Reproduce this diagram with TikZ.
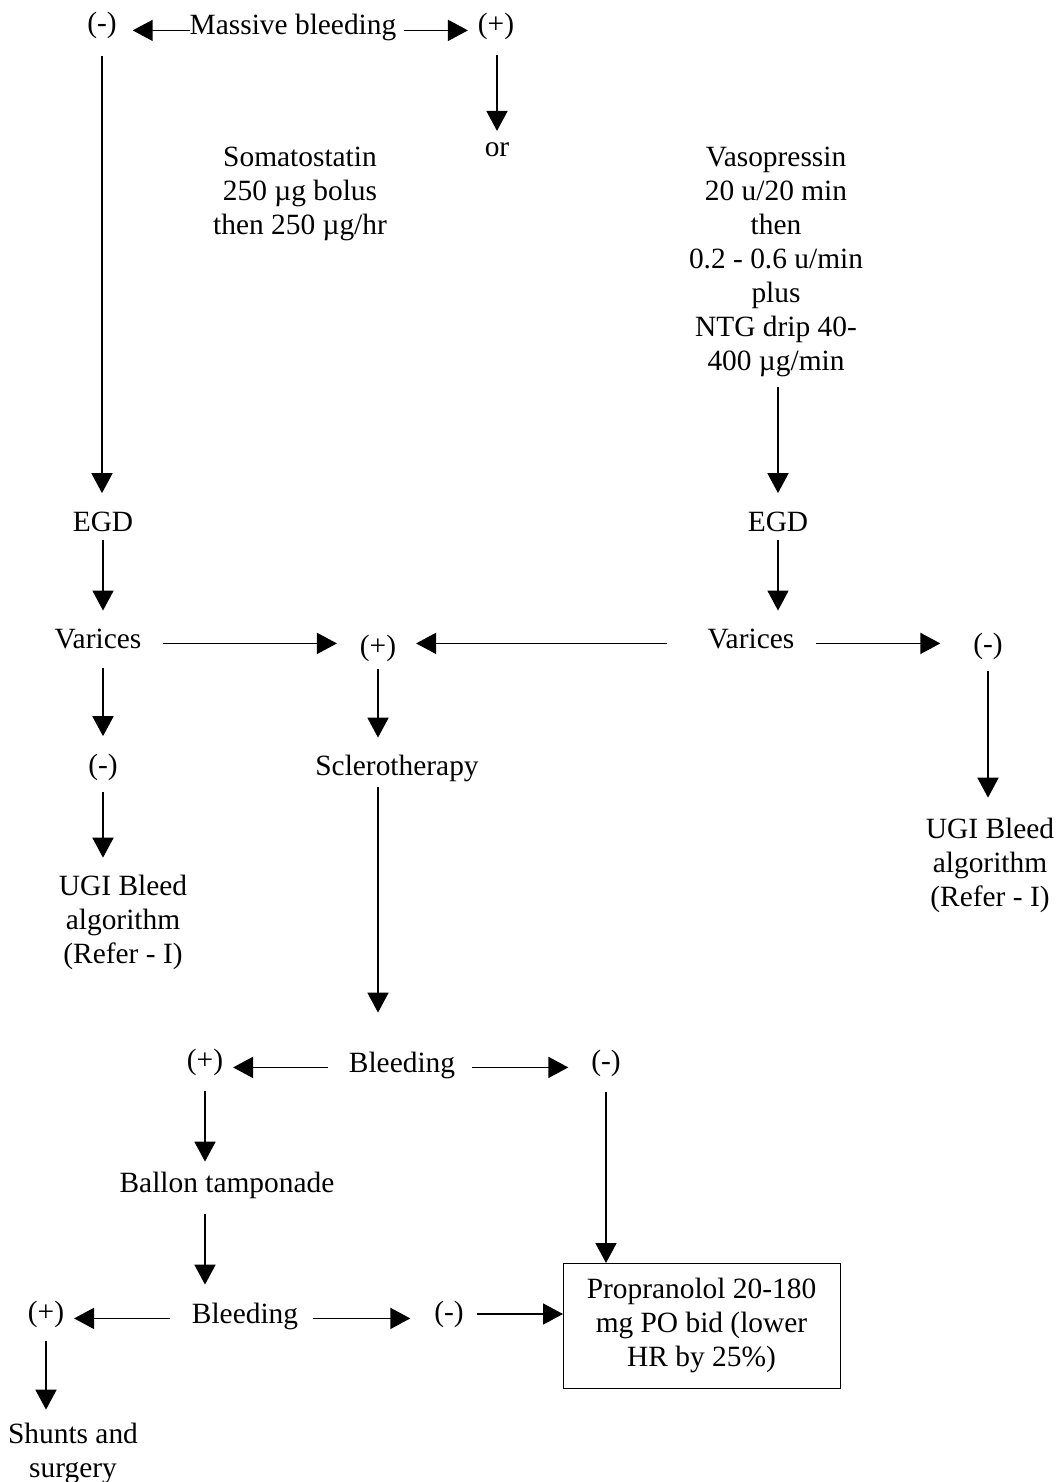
\documentclass[tikz,border=0pt]{standalone}
\usepackage{fontspec}
\setmainfont{Liberation Serif}
\usetikzlibrary{arrows.meta}

\tikzset{
    lbl/.style={inner sep=0pt, outer sep=0pt, align=center, font=\fontsize{14.7pt}{17pt}\selectfont},
    flow/.style={-{Triangle[length=10pt,width=10.5pt]}, line width=0.9pt},
    rxbox/.style={lbl, draw, line width=0.5pt, minimum width=138.5pt, minimum height=62.5pt}
}

\begin{document}
\begin{tikzpicture}[x=0.5pt, y=-0.5pt]
    \useasboundingbox (0,0) rectangle (1056,1482);

    \node[lbl] (neg1) at (102,25) {(-)};
    \node[lbl, anchor=base] (mb) at (293,35) {Massive bleeding};
    \node[lbl] (pos1) at (496,26) {(+)};
    \node[lbl] (orr) at (497,150) {or};
    \node[lbl] (soma) at (300,194) {Somatostatin\\250 µg bolus\\then 250 µg/hr};
    \node[lbl] (vaso) at (776,262) {Vasopressin\\20 u/20 min\\then\\0.2 - 0.6 u/min\\plus\\NTG drip 40-\\400 µg/min};

    \node[lbl] (egdL) at (103,522) {EGD};
    \node[lbl] (egdR) at (778,522) {EGD};
    \node[lbl, anchor=base] (varL) at (98,648) {Varices};
    \node[lbl, anchor=base] (varR) at (751,648) {Varices};
    \node[lbl] (posM) at (378,648) {(+)};
    \node[lbl] (negR) at (988,646) {(-)};
    \node[lbl] (negL) at (103,767) {(-)};
    \node[lbl, anchor=base] (scl) at (397,775) {Sclerotherapy};
    \node[lbl] (ugiR) at (990,865) {UGI Bleed\\algorithm\\(Refer - I)};
    \node[lbl] (ugiL) at (123,922) {UGI Bleed\\algorithm\\(Refer - I)};

    \node[lbl, anchor=base] (bl1) at (402,1072) {Bleeding};
    \node[lbl] (pos2) at (205,1062) {(+)};
    \node[lbl] (neg2) at (606,1063) {(-)};
    \node[lbl, anchor=base] (ball) at (227,1192) {Ballon tamponade};
    \node[lbl, anchor=base] (bl2) at (245,1323) {Bleeding};
    \node[lbl] (pos3) at (46,1314) {(+)};
    \node[lbl] (neg3) at (449,1314) {(-)};
    \node[rxbox] (prop) at (701.5,1325.5) {Propranolol 20-180\\mg PO bid (lower\\HR by 25\%)};
    \node[lbl] (shunt) at (73,1453) {Shunts and\\surgery};

    \draw[flow, shorten >=8pt] (mb.mid west) -- (mb.mid west -| neg1.east);
    \draw[flow, shorten <=4pt, shorten >=5pt] (mb.mid east) -- (mb.mid east -| pos1.west);
    \draw[flow, shorten <=8pt, shorten >=6pt] (orr |- pos1.south) -- (orr.north);
    \draw[flow, shorten <=9pt, shorten >=9.5pt] (neg1.south) -- (neg1.south |- egdL.north);

    \draw[flow, shorten <=4pt, shorten >=9pt] (egdL.south) -- (egdL.south |- varL.north);
    \draw[flow, shorten <=10pt, shorten >=8.75pt] (negL |- varL.south) -- (negL.north);
    \draw[flow, shorten <=5.75pt, shorten >=8.5pt] (negL.south) -- (negL.south |- ugiL.north);
    \draw[flow, shorten <=11pt, shorten >=11.5pt] (varL.mid east) -- (varL.mid east -| posM.west);
    \draw[flow, shorten <=20.5pt, shorten >=10pt] (varR.mid west) -- (varR.mid west -| posM.east);
    \draw[flow, shorten <=11pt, shorten >=16.5pt] (varR.mid east) -- (varR.mid east -| negR.west);
    \draw[flow, shorten <=6pt, shorten >=10pt] (negR.south) -- (negR.south |- ugiR.north);
    \draw[flow, shorten <=5pt, shorten >=9.5pt] (egdR |- vaso.south) -- (egdR.north);
    \draw[flow, shorten <=4pt, shorten >=9pt] (egdR.south) -- (egdR.south |- varR.north);

    \draw[flow, shorten <=4pt, shorten >=8.5pt] (posM.south) -- (posM.south |- scl.north);
    \draw[flow, shorten <=3pt, shorten >=19.5pt] (posM |- scl.south) -- (posM |- bl1.north);
    \draw[flow, shorten <=10.5pt, shorten >=5pt] (bl1.mid west) -- (bl1.mid west -| pos2.east);
    \draw[flow, shorten <=8.5pt, shorten >=11.5pt] (bl1.mid east) -- (bl1.mid east -| neg2.west);
    \draw[flow, shorten <=7.75pt] (neg2.south) -- (neg2.south |- prop.north);
    \draw[flow, shorten <=8pt, shorten >=5pt] (pos2.south) -- (pos2.south |- ball.north);
    \draw[flow, shorten <=8pt, shorten >=9pt] (pos2 |- ball.south) -- (pos2 |- bl2.north);
    \draw[flow, shorten <=11pt, shorten >=5pt] (bl2.mid west) -- (bl2.mid west -| pos3.east);
    \draw[flow, shorten <=7.5pt, shorten >=12pt] (bl2.mid east) -- (bl2.mid east -| neg3.west);
    \draw[flow, shorten <=6.5pt] (neg3.east) -- (neg3.east -| prop.west);
    \draw[flow, shorten <=7pt, shorten >=6.5pt] (pos3.south) -- (pos3.south |- shunt.north);
\end{tikzpicture}
\end{document}
